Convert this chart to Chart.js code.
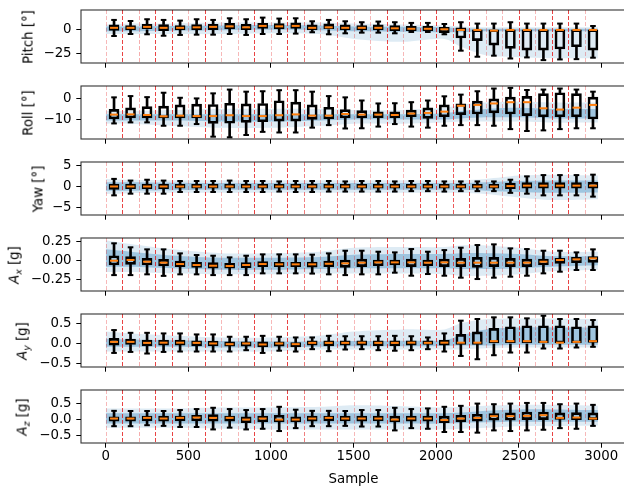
<!DOCTYPE html>
<html>
<head>
<meta charset="utf-8">
<script src="https://cdn.jsdelivr.net/npm/chart.js@4.4.1/dist/chart.umd.min.js"></script>
<style>
  html, body { margin: 0; padding: 0; background: #fff; overflow: hidden; }
  #fig { position: relative; width: 624px; height: 486px; overflow: hidden; }
  #fig canvas { position: absolute; left: 0; }
  .ylab { position: absolute; font-family: 'DejaVu Sans', sans-serif; font-size: 13.33px; color: #000;
          white-space: nowrap; transform: translate(-50%, -50%) rotate(-90deg); }
  .ylab sub { font-size: 70%; vertical-align: -0.3em; }
</style>
</head>
<body>
<div id="fig"></div>
<script>
// box positions (sample index, centre of each 100-sample window)
const boxX = [50,150,250,350,450,550,650,750,850,950,1050,1150,1250,1350,1450,1550,1650,1750,1850,1950,2050,2150,2250,2350,2450,2550,2650,2750,2850,2950];
// window boundaries and how strong each dashed line looks
const segEdges = [0,100,200,300,400,500,600,700,800,900,1000,1100,1200,1300,1400,1500,1600,1700,1800,1900,2000,2100,2200,2300,2400,2500,2600,2700,2800,2900];
const segAlpha = [0.3,0.8,0.35,0.8,0.8,0.3,0.8,0.3,0.3,0.8,0.3,0.8,0.55,0.3,0.6,0.3,0.3,0.8,0.3,0.75,0.8,0.7,0.8,0.3,0.3,0.8,0.3,0.8,0.8,0.3];
const xTicks = [0,500,1000,1500,2000,2500,3000];
// sample positions where the trace cloud envelope was read
const bandX = [0,150,400,700,1000,1300,1500,1800,2050,2150,2300,2500,2700,2980];

// Pitch
const pitchMax = [9.7,8.6,10.4,9.7,9.0,10.4,9.7,11.4,10.4,12.1,11.1,11.4,8.3,9.7,8.3,7.3,8.0,7.3,6.6,6.6,5.5,7.3,5.9,5.9,7.3,5.9,5.9,5.9,5.9,3.4];
const pitchQ3 = [4.5,3.8,5.2,4.9,3.8,4.9,5.2,6.2,5.2,6.2,5.9,6.6,4.5,5.6,4.5,3.8,4.5,3.8,3.1,3.1,2.1,1.4,0,0,0,0,0,0,0,0];
const pitchMed = [1.5,1.5,2.5,1.5,1.5,2,2.5,3,2,3.5,3,3.5,1.5,2,1.5,1.5,1.5,1,0.5,0.5,0,-0.7,-0.7,-1.4,-0.7,-0.7,-0.7,-0.7,-0.7,-0.7];
const pitchQ1 = [-1.1,-0.7,0,-1.4,-0.7,-0.7,-0.4,0.3,-0.4,1.0,0.3,1.0,-0.7,0,-0.7,-0.7,-0.7,-1.4,-1.4,-1.4,-3.5,-9.1,-11.8,-16.4,-19.8,-21.6,-21.6,-20.5,-18.1,-21.6];
const pitchMin = [-7.0,-4.9,-5.2,-6.7,-5.9,-5.6,-5.6,-4.9,-5.9,-4.9,-4.9,-4.5,-3.1,-5.2,-4.2,-3.5,-3.5,-4.2,-2.8,-2.8,-5.2,-22.2,-28.5,-27.4,-30.3,-29.2,-32,-31.3,-31.0,-29.5];
const pitchOuterHi = [5,6,6,7,7,7,6,5,4,3,2,2,2,2];
const pitchOuterLo = [-5,-5,-5,-5,-4,-5,-10,-13,-10,-18,-27,-29,-30,-30];
const pitchCoreHi = [3,3,3.5,4,4.5,4,3,2.5,2,1,0.5,0.5,0.5,0.5];
const pitchCoreLo = [-2,-2,-1.5,-1,-0.5,-1,-2,-2.5,-3,-3,-2,-2,-2,-2];

// Roll
const rollMax = [0.5,1.1,0.6,2.7,0.3,0,2.4,4.2,3.2,3.4,3.9,3.9,3.2,1.1,0.5,-1,-2.4,-2.3,-1.8,-1.0,1.0,1.8,3.4,4.7,5.0,4.0,4.2,4.7,4.2,3.2];
const rollQ3 = [-5.2,-4.5,-3.9,-3.7,-3.1,-2.7,-2.9,-2.3,-2.6,-2.4,-1.1,-1.8,-3.1,-4.2,-5.3,-5.8,-6.4,-6.4,-5.6,-4.5,-3.1,-2.6,-1.3,-0.2,0.6,1.0,2.3,2.7,2.3,0.6];
const rollMed = [-7.7,-7.6,-7.9,-8.5,-8.2,-8.4,-8.4,-8.0,-8.4,-8.4,-8.0,-7.6,-8.2,-8.2,-7.4,-7.7,-7.7,-7.9,-7.2,-6.9,-6.3,-3.5,-3.1,-2.4,-1.8,-1.8,-4.7,-5.3,-4.4,-3.1];
const rollQ1 = [-9.8,-9.3,-9.3,-9.3,-9.3,-9.3,-11.9,-11.8,-11.4,-11.1,-10.8,-10.8,-10,-9.8,-9.3,-9.3,-9.2,-9.2,-8.7,-9.5,-8.7,-7.7,-7.4,-6.9,-7.4,-8.2,-8.7,-8.7,-8.7,-9.8];
const rollMin = [-11.9,-11.4,-11.4,-13,-13,-12.2,-18.2,-18.5,-17.4,-15.9,-16.2,-16.2,-13.9,-12.7,-14.3,-14.2,-13.4,-12.2,-13.4,-13.9,-13,-12.7,-12.7,-13,-14.6,-15.5,-15.2,-14.6,-14.2,-14.2];
const rollOuterHi = [-6,-6,-5.5,-5,-5,-5,-5.5,-5.5,-4.5,-3,-2,-1.5,-2,-2];
const rollOuterLo = [-12,-12,-13,-14,-14,-13,-12,-12,-11.5,-11,-11,-11,-11.5,-11.5];
const rollCoreHi = [-7.5,-7.5,-7.5,-7.5,-7.5,-7.5,-7.5,-7.5,-7,-6,-5,-4.5,-5,-5];
const rollCoreLo = [-10.5,-10.5,-10.5,-11,-11,-10.5,-10,-10,-10,-9.5,-9,-9,-9.5,-9.5];

// Yaw
const yawMax = [1.8,1.4,1.6,1.4,1.3,1.3,1.3,1.4,1.3,1.3,1.2,1.3,1.3,1.3,1.2,1.3,1.3,1.2,1.3,1.3,1.2,1.2,1.2,1.2,1.6,2.4,2.7,2.7,2.7,2.8];
const yawQ3 = [0.6,0.6,0.6,0.6,0.5,0.5,0.5,0.6,0.5,0.5,0.5,0.5,0.6,0.5,0.5,0.5,0.5,0.5,0.5,0.5,0.5,0.5,0.5,0.5,0.8,0.9,0.9,0.9,0.9,1.0];
const yawMed = [0,0,0,0,0,0,0,0,0,0,0,0,0,0,0,0,0,0,0,0,0,0,0,0,0.1,0.2,0.2,0.2,0.2,0.2];
const yawQ1 = [-0.7,-0.5,-0.5,-0.5,-0.4,-0.4,-0.4,-0.4,-0.4,-0.4,-0.4,-0.4,-0.4,-0.4,-0.4,-0.4,-0.4,-0.4,-0.4,-0.4,-0.4,-0.4,-0.4,-0.4,-0.5,-0.4,-0.4,-0.4,-0.4,-0.4];
const yawMin = [-2.1,-1.7,-1.7,-1.7,-1.3,-1.3,-1.3,-1.3,-1.3,-1.3,-1.2,-1.3,-1.3,-1.2,-1.2,-1.2,-1.2,-1.2,-1.1,-1.1,-1.2,-1.1,-1.1,-1.1,-1.5,-1.7,-2.1,-2.1,-2.1,-2.4];
const yawOuterHi = [1.8,1.6,1.5,1.5,1.5,1.5,1.5,1.5,1.5,1.5,1.8,2.6,2.8,2.6];
const yawOuterLo = [-1.8,-1.6,-1.5,-1.5,-1.5,-1.5,-1.5,-1.5,-1.5,-1.5,-1.8,-2.6,-3.2,-3.0];
const yawCoreHi = [1,1,0.9,0.8,0.8,0.8,0.8,0.8,0.8,0.8,1,1.3,1.4,1.4];
const yawCoreLo = [-1,-1,-0.9,-0.8,-0.8,-0.8,-0.8,-0.8,-0.8,-0.8,-1,-1.3,-1.5,-1.4];

// Ax
const axMax = [0.23,0.177,0.15,0.15,0.097,0.075,0.066,0.044,0.066,0.084,0.084,0.084,0.08,0.097,0.132,0.132,0.119,0.11,0.154,0.119,0.14,0.172,0.207,0.216,0.163,0.154,0.132,0.132,0.11,0.15];
const axQ3 = [0.066,0.053,0.03,0.018,-0.004,-0.022,-0.026,-0.035,-0.026,-0.013,-0.022,-0.022,-0.018,-0.004,0.009,0.022,0.009,0.009,0.022,0.009,0.022,0.031,0.044,0.044,0.031,0.022,0.022,0.031,0.044,0.053];
const axMed = [0,0.01,-0.013,-0.026,-0.044,-0.057,-0.066,-0.07,-0.057,-0.044,-0.048,-0.048,-0.048,-0.04,-0.035,-0.026,-0.022,-0.022,-0.022,-0.026,-0.022,-0.026,-0.026,-0.026,-0.026,-0.026,-0.013,0.009,0.018,0.031];
const axQ1 = [-0.057,-0.048,-0.057,-0.07,-0.079,-0.088,-0.1,-0.1,-0.093,-0.079,-0.079,-0.079,-0.084,-0.079,-0.088,-0.079,-0.066,-0.057,-0.079,-0.066,-0.079,-0.079,-0.088,-0.079,-0.079,-0.079,-0.057,-0.035,-0.026,-0.022];
const axMin = [-0.19,-0.19,-0.18,-0.2,-0.18,-0.18,-0.19,-0.19,-0.19,-0.167,-0.167,-0.167,-0.17,-0.18,-0.19,-0.18,-0.18,-0.158,-0.198,-0.176,-0.198,-0.224,-0.242,-0.224,-0.211,-0.198,-0.167,-0.145,-0.123,-0.123];
const axOuterHi = [0.27,0.22,0.15,0.1,0.1,0.12,0.17,0.18,0.18,0.2,0.2,0.17,0.12,0.12];
const axOuterLo = [-0.15,-0.15,-0.17,-0.18,-0.18,-0.17,-0.17,-0.17,-0.18,-0.2,-0.2,-0.18,-0.14,-0.12];
const axCoreHi = [0.15,0.12,0.07,0.04,0.04,0.05,0.08,0.09,0.09,0.1,0.1,0.09,0.06,0.06];
const axCoreLo = [-0.08,-0.08,-0.1,-0.12,-0.12,-0.11,-0.1,-0.1,-0.1,-0.11,-0.11,-0.1,-0.08,-0.06];

// Ay
const ayMax = [0.333,0.265,0.265,0.25,0.25,0.225,0.225,0.167,0.167,0.19,0.167,0.15,0.15,0.19,0.18,0.18,0.18,0.19,0.18,0.15,0.25,0.567,0.608,0.65,0.65,0.625,0.69,0.608,0.608,0.583];
const ayQ3 = [0.125,0.108,0.083,0.083,0.083,0.067,0.06,0.04,0.04,0.04,0.04,0.025,0.067,0.067,0.067,0.067,0.067,0.067,0.067,0.067,0.083,0.225,0.29,0.375,0.417,0.44,0.44,0.44,0.417,0.44];
const ayMed = [0.04,0.04,0.015,0.02,0.02,0.015,0,-0.017,0,-0.025,0,-0.017,0.015,0.015,0.015,0.02,0.015,0.015,0.02,0.015,0.02,0.02,0.02,0.058,0.058,0.058,0.04,0.02,0.04,0.058];
const ayQ1 = [-0.042,-0.025,-0.06,-0.042,-0.042,-0.06,-0.06,-0.067,-0.067,-0.083,-0.067,-0.083,-0.042,-0.06,-0.042,-0.042,-0.06,-0.06,-0.042,-0.025,-0.042,-0.025,-0.025,0,0,0,0,0,0,0.025];
const ayMin = [-0.235,-0.21,-0.25,-0.21,-0.2,-0.2,-0.2,-0.2,-0.167,-0.235,-0.18,-0.2,-0.142,-0.192,-0.15,-0.142,-0.167,-0.18,-0.167,-0.142,-0.2,-0.31,-0.392,-0.292,-0.225,-0.225,-0.125,-0.125,-0.1,-0.083];
const ayOuterHi = [0.3,0.25,0.2,0.15,0.15,0.2,0.3,0.35,0.35,0.5,0.6,0.62,0.62,0.6];
const ayOuterLo = [-0.2,-0.2,-0.2,-0.2,-0.2,-0.15,-0.15,-0.15,-0.15,-0.15,-0.12,-0.1,-0.1,-0.1];
const ayCoreHi = [0.12,0.1,0.08,0.06,0.05,0.05,0.06,0.07,0.08,0.2,0.35,0.4,0.4,0.4];
const ayCoreLo = [-0.08,-0.08,-0.08,-0.1,-0.1,-0.08,-0.07,-0.07,-0.06,-0.05,-0.05,-0.03,-0.03,-0.03];

// Az
const azMax = [0.275,0.27,0.27,0.27,0.3,0.33,0.37,0.33,0.3,0.33,0.4,0.31,0.275,0.275,0.27,0.3,0.3,0.37,0.33,0.35,0.4,0.43,0.5,0.48,0.5,0.52,0.52,0.48,0.5,0.46];
const azQ3 = [0.087,0.087,0.11,0.11,0.11,0.14,0.16,0.11,0.087,0.11,0.14,0.087,0.11,0.11,0.11,0.11,0.11,0.11,0.11,0.11,0.11,0.14,0.17,0.19,0.21,0.24,0.24,0.21,0.22,0.21];
const azMed = [0.037,0.037,0.057,0.037,0.057,0.068,0.057,0.057,0.005,0.037,0.005,0.005,0.037,0.057,0.037,0.037,0.037,0.005,0.037,0.037,-0.01,0.037,0.057,0.11,0.11,0.12,0.14,0.057,0.068,0.037];
const azQ1 = [-0.047,-0.047,-0.037,-0.047,-0.037,-0.037,-0.047,-0.047,-0.09,-0.068,-0.068,-0.068,-0.047,-0.037,-0.037,-0.047,-0.037,-0.068,-0.047,-0.047,-0.09,-0.068,-0.047,-0.016,-0.016,0.005,0.005,0.01,0.005,0.005];
const azMin = [-0.2,-0.2,-0.17,-0.19,-0.225,-0.225,-0.3,-0.245,-0.3,-0.28,-0.35,-0.26,-0.2,-0.2,-0.19,-0.21,-0.21,-0.33,-0.26,-0.28,-0.38,-0.38,-0.4,-0.33,-0.35,-0.33,-0.31,-0.26,-0.28,-0.19];
const azOuterHi = [0.35,0.35,0.35,0.38,0.38,0.4,0.45,0.42,0.38,0.4,0.43,0.46,0.46,0.43];
const azOuterLo = [-0.25,-0.25,-0.25,-0.28,-0.3,-0.3,-0.3,-0.3,-0.3,-0.28,-0.25,-0.2,-0.2,-0.18];
const azCoreHi = [0.2,0.2,0.2,0.2,0.2,0.2,0.2,0.2,0.2,0.22,0.28,0.32,0.32,0.3];
const azCoreLo = [-0.12,-0.12,-0.12,-0.12,-0.12,-0.12,-0.12,-0.12,-0.12,-0.1,-0.08,-0.06,-0.06,-0.06];

const panels = [
  { label: 'Pitch [°]', labX: 28, range: [-35, 20], ticks: [-25, 0], tickLabels: ['−25', '0'],
    max: pitchMax, q3: pitchQ3, med: pitchMed, q1: pitchQ1, min: pitchMin,
    outerHi: pitchOuterHi, outerLo: pitchOuterLo, coreHi: pitchCoreHi, coreLo: pitchCoreLo },
  { label: 'Roll [°]', labX: 28, range: [-19.3, 5.9], ticks: [-10, 0], tickLabels: ['−10', '0'],
    max: rollMax, q3: rollQ3, med: rollMed, q1: rollQ1, min: rollMin,
    outerHi: rollOuterHi, outerLo: rollOuterLo, coreHi: rollCoreHi, coreLo: rollCoreLo },
  { label: 'Yaw [°]', labX: 38, range: [-6.75, 5.8], ticks: [-5, 0, 5], tickLabels: ['−5', '0', '5'],
    max: yawMax, q3: yawQ3, med: yawMed, q1: yawQ1, min: yawMin,
    outerHi: yawOuterHi, outerLo: yawOuterLo, coreHi: yawCoreHi, coreLo: yawCoreLo },
  { label: '<i>A</i><sub><i>x</i></sub> [g]', labX: 15, range: [-0.40, 0.30], ticks: [-0.25, 0, 0.25], tickLabels: ['−0.25', '0.00', '0.25'],
    max: axMax, q3: axQ3, med: axMed, q1: axQ1, min: axMin,
    outerHi: axOuterHi, outerLo: axOuterLo, coreHi: axCoreHi, coreLo: axCoreLo },
  { label: '<i>A</i><sub><i>y</i></sub> [g]', labX: 23, range: [-0.585, 0.733], ticks: [-0.5, 0, 0.5], tickLabels: ['−0.5', '0.0', '0.5'],
    max: ayMax, q3: ayQ3, med: ayMed, q1: ayQ1, min: ayMin,
    outerHi: ayOuterHi, outerLo: ayOuterLo, coreHi: ayCoreHi, coreLo: ayCoreLo },
  { label: '<i>A</i><sub><i>z</i></sub> [g]', labX: 23, range: [-0.72, 0.92], ticks: [-0.5, 0, 0.5], tickLabels: ['−0.5', '0.0', '0.5'],
    max: azMax, q3: azQ3, med: azMed, q1: azQ1, min: azMin,
    outerHi: azOuterHi, outerLo: azOuterLo, coreHi: azCoreHi, coreLo: azCoreLo }
];

const panelTop = [10, 86, 162, 238, 314, 390];
const panelH = 53;
const font = { family: 'DejaVu Sans', size: 13.33 };
const fig = document.getElementById('fig');

// dashed window lines + axes frame
const overlay = {
  id: 'overlay',
  afterDatasetsDraw(chart) {
    const { ctx, chartArea: a, scales: { x } } = chart;
    ctx.save();
    ctx.lineWidth = 1;
    ctx.setLineDash([4, 2]);
    segEdges.forEach((v, k) => {
      const px = Math.round(x.getPixelForValue(v)) + 0.5;
      ctx.strokeStyle = 'rgba(228,20,20,' + segAlpha[k] + ')';
      ctx.beginPath();
      ctx.moveTo(px, a.top);
      ctx.lineTo(px, a.bottom);
      ctx.stroke();
    });
    ctx.setLineDash([]);
    ctx.strokeStyle = 'rgba(0,0,0,0.8)';
    ctx.lineWidth = 1.1;
    ctx.strokeRect(a.left, a.top, a.right - a.left, a.bottom - a.top);
    ctx.restore();
  }
};

const pts = (xs, ys) => xs.map((x, k) => ({ x: x, y: ys[k] }));
const clear = 'rgba(0,0,0,0)';

const makePanel = (p, i) => {
  const last = i === panels.length - 1;
  const axisH = last ? 45 : 10;
  const padTop = 8;
  const canvas = document.createElement('canvas');
  canvas.width = 640;
  canvas.height = padTop + panelH + axisH;
  canvas.style.top = (panelTop[i] - padTop) + 'px';
  fig.appendChild(canvas);

  const lab = document.createElement('div');
  lab.className = 'ylab';
  lab.innerHTML = p.label;
  lab.style.left = p.labX + 'px';
  lab.style.top = (panelTop[i] + panelH / 2) + 'px';
  fig.appendChild(lab);

  const band = (ys, fill, color) => ({
    type: 'line', data: pts(bandX, ys), borderColor: clear, borderWidth: 0,
    pointRadius: 0, tension: 0.3, fill: fill, backgroundColor: color, order: 10
  });

  new Chart(canvas, {
    type: 'bar',
    data: {
      datasets: [
        band(p.outerHi, false, clear),
        band(p.outerLo, '-1', 'rgba(31,119,180,0.15)'),
        band(p.coreHi, false, clear),
        band(p.coreLo, '-1', 'rgba(31,119,180,0.33)'),
        { type: 'bar', data: boxX.map((x, k) => ({ x: x, y: [p.min[k], p.q1[k]] })),
          backgroundColor: '#000', borderWidth: 0, barThickness: 2, grouped: false, order: 6 },
        { type: 'bar', data: boxX.map((x, k) => ({ x: x, y: [p.q3[k], p.max[k]] })),
          backgroundColor: '#000', borderWidth: 0, barThickness: 2, grouped: false, order: 6 },
        { type: 'bar', data: boxX.map((x, k) => ({ x: x, y: [p.q1[k], p.q3[k]] })),
          backgroundColor: clear, borderColor: '#000', borderWidth: 2, borderSkipped: false,
          barThickness: 10, grouped: false, order: 5 },
        { type: 'line', showLine: false, data: pts(boxX, p.max).concat(pts(boxX, p.min)),
          pointStyle: 'line', pointRadius: 2.8, pointBorderWidth: 2, pointBorderColor: '#000',
          borderColor: '#000', order: 4 },
        { type: 'line', showLine: false, data: pts(boxX, p.med),
          pointStyle: 'line', pointRadius: 4, pointBorderWidth: 2, pointBorderColor: '#ff7f0e',
          borderColor: '#ff7f0e', order: 3 }
      ]
    },
    options: {
      responsive: false,
      animation: false,
      layout: { padding: { top: padTop, right: 14, left: 0, bottom: 0 } },
      plugins: { legend: { display: false }, tooltip: { enabled: false } },
      scales: {
        x: {
          type: 'linear', min: -150, max: 3150, offset: false,
          afterBuildTicks: s => { s.ticks = xTicks.map(v => ({ value: v })); },
          afterFit: s => { s.height = axisH; s.paddingLeft = 0; s.paddingRight = 0; },
          grid: { drawOnChartArea: false, offset: false, tickLength: 4.7, color: '#000', lineWidth: 1 },
          border: { display: false },
          ticks: { display: last, color: '#000', font: font, padding: 1, maxRotation: 0, callback: v => String(v) },
          title: { display: last, text: 'Sample', color: '#000', font: font, padding: { top: 7, bottom: 0 } }
        },
        y: {
          min: p.range[0], max: p.range[1],
          afterBuildTicks: s => { s.ticks = p.ticks.map(v => ({ value: v })); },
          afterFit: s => { s.width = 81; s.paddingTop = 0; s.paddingBottom = 0; },
          grid: { drawOnChartArea: false, tickLength: 4.7, color: '#000', lineWidth: 1 },
          border: { display: false },
          ticks: { color: '#000', font: font, padding: 4.7, callback: (v, k) => p.tickLabels[k] }
        }
      }
    },
    plugins: [overlay]
  });
};

panels.forEach(makePanel);
</script>
</body>
</html>
